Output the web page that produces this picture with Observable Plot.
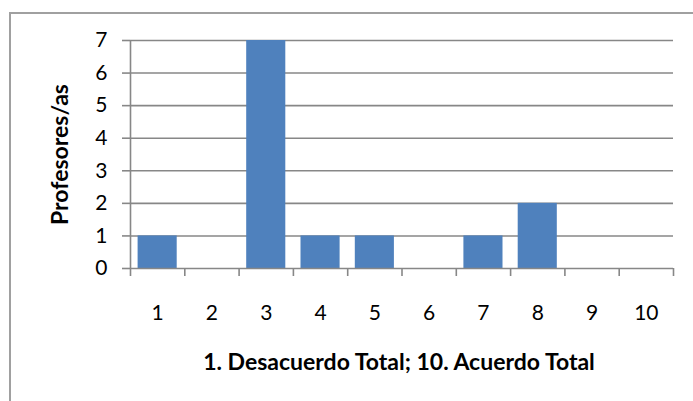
<!DOCTYPE html>
<html>
<head>
<meta charset="utf-8">
<script src="https://cdn.jsdelivr.net/npm/d3@7"></script>
<script src="https://cdn.jsdelivr.net/npm/@observablehq/plot@0.6"></script>
<style>
  html, body { margin: 0; padding: 0; background: #fff; }
  #wrap { position: relative; width: 693px; height: 401px; overflow: hidden; }
  #border { position: absolute; left: 9px; top: 12px; width: 700px; height: 400px;
            border-left: 2px solid #a0a0a0; border-top: 2px solid #a0a0a0; }
  #chart { position: absolute; left: 0; top: 0; }
</style>
</head>
<body>
<div id="wrap"><div id="border"></div><div id="chart"></div></div>
<script>
const categories = [1, 2, 3, 4, 5, 6, 7, 8, 9, 10];
const values = [1, 0, 7, 1, 1, 0, 1, 2, 0, 0];
const yTicks = [0, 1, 2, 3, 4, 5, 6, 7];
const xTitle = "1. Desacuerdo Total; 10. Acuerdo Total";
const yTitle = "Profesores/as";

const data = categories.map((c, i) => ({c, v: values[i]}));
const boundaries = categories.map(c => c - 0.5).concat([categories[categories.length - 1] + 0.5]);
const gridColor = "#878787";
const font = "Lato, 'Open Sans', sans-serif";

const chart = Plot.plot({
  width: 693,
  height: 401,
  marginLeft: 130,
  marginRight: 20,
  marginTop: 40,
  marginBottom: 133,
  style: {fontFamily: font, fontSize: "21px", color: "#000", background: "transparent"},
  x: {domain: [0.5, 10.5]},
  y: {domain: [0, 7]},
  marks: [
    Plot.gridY(yTicks.slice(1), {stroke: gridColor, strokeOpacity: 1, strokeWidth: 1.6}),
    Plot.rectY(data, {x1: d => d.c - 0.5, x2: d => d.c + 0.5, y: "v", fill: "#4F81BD", insetLeft: 7.6, insetRight: 7.6}),
    Plot.ruleY([0], {stroke: gridColor, strokeWidth: 1.6}),
    Plot.ruleX([0.5], {stroke: gridColor, strokeWidth: 1.6}),
    Plot.axisY(yTicks, {tickSize: 8, tickPadding: 15, stroke: gridColor, strokeWidth: 1.6, fill: "#000", fontSize: 21, label: null}),
    Plot.axisX(boundaries, {tickSize: 8, tickFormat: () => "", stroke: gridColor, strokeWidth: 1.6, label: null}),
    Plot.text(categories, {x: d => d, frameAnchor: "bottom", dy: 45, lineAnchor: "middle", fontSize: 21, fill: "#000"}),
    Plot.text([xTitle], {frameAnchor: "bottom", dy: 94, dx: -3, lineAnchor: "middle", textAnchor: "middle", fontWeight: "bold", fontSize: 23, fill: "#000"}),
    Plot.text([yTitle], {frameAnchor: "left", dx: -70, rotate: -90, lineAnchor: "middle", textAnchor: "middle", fontWeight: "bold", fontSize: 23, fill: "#000"})
  ]
});
document.getElementById("chart").appendChild(chart);
</script>
</body>
</html>
